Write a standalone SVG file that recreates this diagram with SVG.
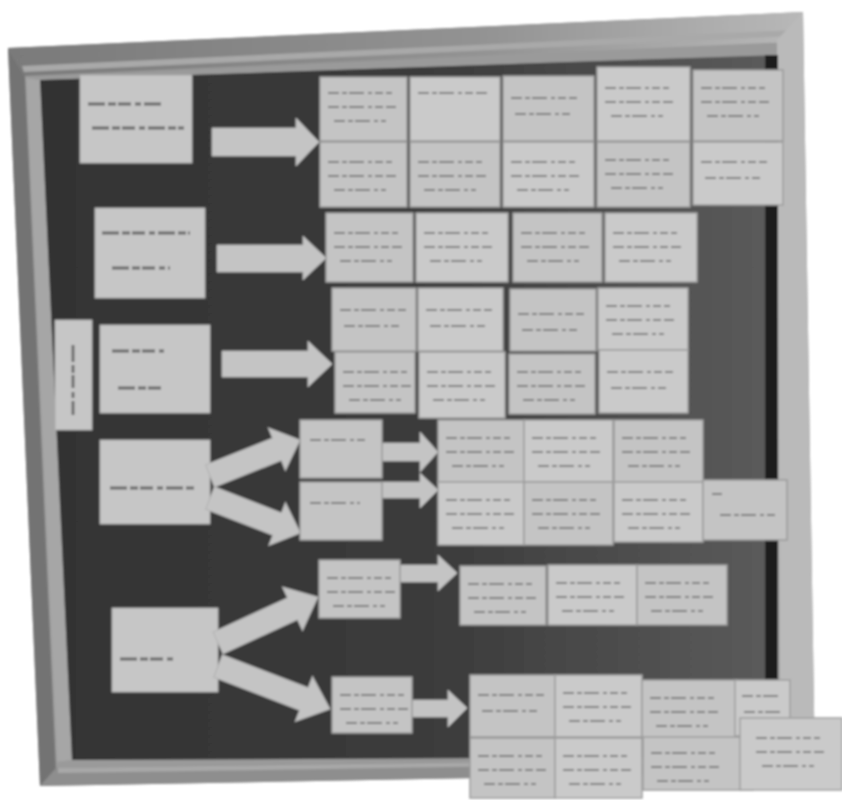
<svg xmlns="http://www.w3.org/2000/svg" xmlns:xlink="http://www.w3.org/1999/xlink" width="842" height="800" viewBox="0 0 842 800">
  <defs>
    <style>
      .card { fill: #c4c4c4; stroke: #9a9a9a; stroke-width: 1.5; }
      .card2 { fill: #cacaca; stroke: #9e9e9e; stroke-width: 1.5; }
      .head { fill: #c6c6c6; stroke: #aaaaaa; stroke-width: 1; }
      .arrow { fill: #c4c4c4; stroke: #b0b0b0; stroke-width: 1; }
      .ink { fill: none; stroke: #666666; stroke-width: 2.2; stroke-opacity: 0.75; stroke-dasharray: 11 3 5 2 15 4 4 3 8 3; }
      .ink-big { fill: none; stroke: #505050; stroke-width: 2.8; stroke-opacity: 0.8; stroke-dasharray: 17 3 8 2 13 4 6 3; }
    </style>
    <filter id="soft" x="-2%" y="-2%" width="104%" height="104%">
      <feGaussianBlur stdDeviation="1.3"/>
    </filter>
    <linearGradient id="boardShade" x1="0" y1="0" x2="1" y2="0">
      <stop offset="0" stop-color="#333333"/>
      <stop offset="0.55" stop-color="#3c3c3c"/>
      <stop offset="1" stop-color="#5c5c5c"/>
    </linearGradient>
    <linearGradient id="topBand" x1="0" y1="0" x2="1" y2="0">
      <stop offset="0" stop-color="#7a7a7a"/>
      <stop offset="0.6" stop-color="#939393"/>
      <stop offset="1" stop-color="#b8b8b8"/>
    </linearGradient>
    <!-- handwritten lines on the cards -->
    <g id="w3" class="ink"><path d="M8 16h64M8 30h68M14 44h52"/></g>
    <g id="w2" class="ink"><path d="M8 18h66M12 34h56"/></g>
  </defs>

  <rect width="842" height="800" fill="#ffffff"/>

  <g filter="url(#soft)">
    <!-- board frame -->
    <g id="frame">
      <polygon points="8,48 803,12 815,772 40,786" fill="#9a9a9a"/>
      <polygon points="8,48 803,12 790,42 25,76" fill="url(#topBand)"/>
      <polygon points="22,66 795,30 793,36 24,72" fill="#a9a9a9"/>
      <polygon points="777,40 803,12 815,772 780,760" fill="#bababa"/>
      <polygon points="8,48 25,76 56,770 40,786" fill="#737373"/>
      <polygon points="26,78 40,80 72,760 57,762" fill="#a6a6a6"/>
      <polygon points="40,786 815,772 780,757 56,768" fill="#8e8e8e"/>
      <polygon points="58,768 790,758 790,762 58,773" fill="#a8a8a8"/>
      <polygon points="40,80 777,55 777,757 72,760" fill="url(#boardShade)"/>
      <rect x="765" y="55" width="13" height="702" fill="#1f1f1f"/>
    </g>

    <!-- title cards on the left -->
    <g id="topic-1"><rect class="head" x="80" y="75" width="112" height="88"/><path class="ink-big" d="M88 104h76M92 128h92"/></g>
    <g id="topic-2"><rect class="head" x="95" y="208" width="110" height="90"/><path class="ink-big" d="M102 233h88M112 268h58"/></g>
    <g id="topic-3"><rect class="head" x="100" y="325" width="110" height="88"/><path class="ink-big" d="M112 351h52M118 388h46"/></g>
    <g id="topic-4"><rect class="head" x="100" y="440" width="110" height="84"/><path class="ink-big" d="M110 488h86"/></g>
    <g id="topic-5"><rect class="head" x="112" y="608" width="106" height="84"/><path class="ink-big" d="M120 659h56"/></g>
    <g id="side-label"><rect class="head" x="55" y="320" width="37" height="110"/><path class="ink-big" d="M73 345v70"/></g>

    <!-- connectors -->
    <g id="connectors">
      <polygon class="arrow" points="212,128 296,128 296,118 319,142 296,166 296,156 212,156"/>
      <polygon class="arrow" points="217,245 303,245 303,236 326,258 303,280 303,272 217,272"/>
      <polygon class="arrow" points="222,351 308,351 308,341 332,364 308,387 308,377 222,377"/>
      <path class="arrow" transform="translate(210,476) rotate(-21.8)" d="M0,-12 L72,-12 L72,-23 L97,0 L72,23 L72,12 L0,12 Z"/>
      <path class="arrow" transform="translate(210,498) rotate(21.2)" d="M0,-12 L72,-12 L72,-23 L97,0 L72,23 L72,12 L0,12 Z"/>
      <polygon class="arrow" points="382,443 420,443 420,432 438,452 420,472 420,461 382,461"/>
      <polygon class="arrow" points="382,482 420,482 420,473 438,490 420,508 420,498 382,498"/>
      <path class="arrow" transform="translate(218,643) rotate(-24.7)" d="M0,-12 L82,-12 L82,-24 L110,0 L82,24 L82,12 L0,12 Z"/>
      <path class="arrow" transform="translate(218,666) rotate(21)" d="M0,-12 L92,-12 L92,-24 L120,0 L92,24 L92,12 L0,12 Z"/>
      <polygon class="arrow" points="400,565 438,565 438,555 457,573 438,591 438,582 400,582"/>
      <polygon class="arrow" points="412,700 448,700 448,690 467,708 448,727 448,717 412,717"/>
    </g>

    <!-- first topic: ten cards -->
    <g id="group-a">
      <rect class="card" x="320" y="77" width="87" height="64"/><use href="#w3" x="320" y="77"/>
      <rect class="card2" x="410" y="77" width="90" height="64"/><path class="ink" d="M418 93h70"/>
      <rect class="card" x="503" y="76" width="91" height="65"/><use href="#w2" x="503" y="80"/>
      <rect class="card2" x="597" y="67" width="93" height="74"/><use href="#w3" x="597" y="72"/>
      <rect class="card" x="693" y="70" width="90" height="71"/><use href="#w3" x="693" y="72"/>
      <rect class="card" x="320" y="142" width="87" height="65"/><use href="#w3" x="320" y="146"/>
      <rect class="card" x="410" y="142" width="90" height="65"/><use href="#w3" x="410" y="146"/>
      <rect class="card2" x="503" y="142" width="91" height="65"/><use href="#w3" x="503" y="146"/>
      <rect class="card" x="597" y="142" width="93" height="65"/><use href="#w3" x="597" y="144"/>
      <rect class="card2" x="693" y="142" width="90" height="63"/><use href="#w2" x="693" y="144"/>
    </g>

    <!-- second topic: four cards -->
    <g id="group-b">
      <rect class="card" x="326" y="213" width="87" height="69"/><use href="#w3" x="326" y="217"/>
      <rect class="card2" x="416" y="213" width="92" height="69"/><use href="#w3" x="416" y="217"/>
      <rect class="card" x="513" y="213" width="89" height="69"/><use href="#w3" x="513" y="217"/>
      <rect class="card2" x="605" y="213" width="92" height="69"/><use href="#w3" x="605" y="217"/>
    </g>

    <!-- third topic: eight cards -->
    <g id="group-c">
      <rect class="card" x="332" y="288" width="84" height="63"/><use href="#w2" x="332" y="292"/>
      <rect class="card2" x="418" y="288" width="85" height="63"/><use href="#w2" x="418" y="292"/>
      <rect class="card" x="510" y="289" width="86" height="62"/><use href="#w2" x="510" y="296"/>
      <rect class="card2" x="598" y="288" width="90" height="62"/><use href="#w3" x="598" y="290"/>
      <rect class="card" x="335" y="352" width="80" height="61"/><use href="#w3" x="335" y="356"/>
      <rect class="card2" x="419" y="352" width="86" height="66"/><use href="#w3" x="419" y="356"/>
      <rect class="card" x="509" y="354" width="86" height="60"/><use href="#w3" x="509" y="356"/>
      <rect class="card2" x="599" y="350" width="89" height="63"/><use href="#w2" x="599" y="354"/>
    </g>

    <!-- fourth topic: two branches and seven cards -->
    <g id="branch-4a"><rect class="card" x="300" y="420" width="82" height="58"/><path class="ink" d="M310 440h56"/></g>
    <g id="branch-4b"><rect class="card" x="300" y="482" width="82" height="58"/><path class="ink" d="M310 503h50"/></g>
    <g id="group-d">
      <rect class="card" x="438" y="420" width="86" height="62"/><use href="#w3" x="438" y="422"/>
      <rect class="card2" x="524" y="420" width="89" height="62"/><use href="#w3" x="524" y="422"/>
      <rect class="card" x="614" y="420" width="89" height="62"/><use href="#w3" x="614" y="422"/>
      <rect class="card2" x="438" y="482" width="86" height="63"/><use href="#w3" x="438" y="484"/>
      <rect class="card" x="524" y="482" width="89" height="63"/><use href="#w3" x="524" y="484"/>
      <rect class="card2" x="614" y="482" width="89" height="60"/><use href="#w3" x="614" y="484"/>
      <rect class="card" x="703" y="480" width="84" height="60"/><path class="ink" d="M712 494h10M720 515h56"/>
    </g>

    <!-- fifth topic: two branches and their cards -->
    <g id="branch-5a"><rect class="card" x="319" y="560" width="81" height="58"/><use href="#w3" x="319" y="562"/></g>
    <g id="branch-5b"><rect class="card" x="332" y="677" width="80" height="56"/><use href="#w3" x="332" y="679"/></g>
    <g id="group-e">
      <rect class="card" x="460" y="566" width="86" height="59"/><use href="#w3" x="460" y="568"/>
      <rect class="card2" x="548" y="565" width="89" height="60"/><use href="#w3" x="548" y="567"/>
      <rect class="card" x="637" y="565" width="90" height="60"/><use href="#w3" x="637" y="567"/>
    </g>
    <g id="group-f">
      <rect class="card" x="470" y="675" width="85" height="62"/><use href="#w2" x="470" y="677"/>
      <rect class="card2" x="555" y="675" width="87" height="62"/><use href="#w3" x="555" y="677"/>
      <rect class="card" x="470" y="738" width="85" height="60"/><use href="#w3" x="470" y="740"/>
      <rect class="card2" x="555" y="738" width="87" height="60"/><use href="#w3" x="555" y="740"/>
      <rect class="card" x="642" y="680" width="95" height="58"/><use href="#w3" x="642" y="682"/>
      <rect class="card2" x="735" y="680" width="55" height="56"/><path class="ink" d="M742 696h40M744 712h38"/>
      <rect class="card" x="643" y="737" width="110" height="53"/><use href="#w3" x="643" y="737"/>
      <rect class="card2" x="740" y="718" width="102" height="72"/><use href="#w3" x="748" y="722"/>
    </g>
  </g>
</svg>
